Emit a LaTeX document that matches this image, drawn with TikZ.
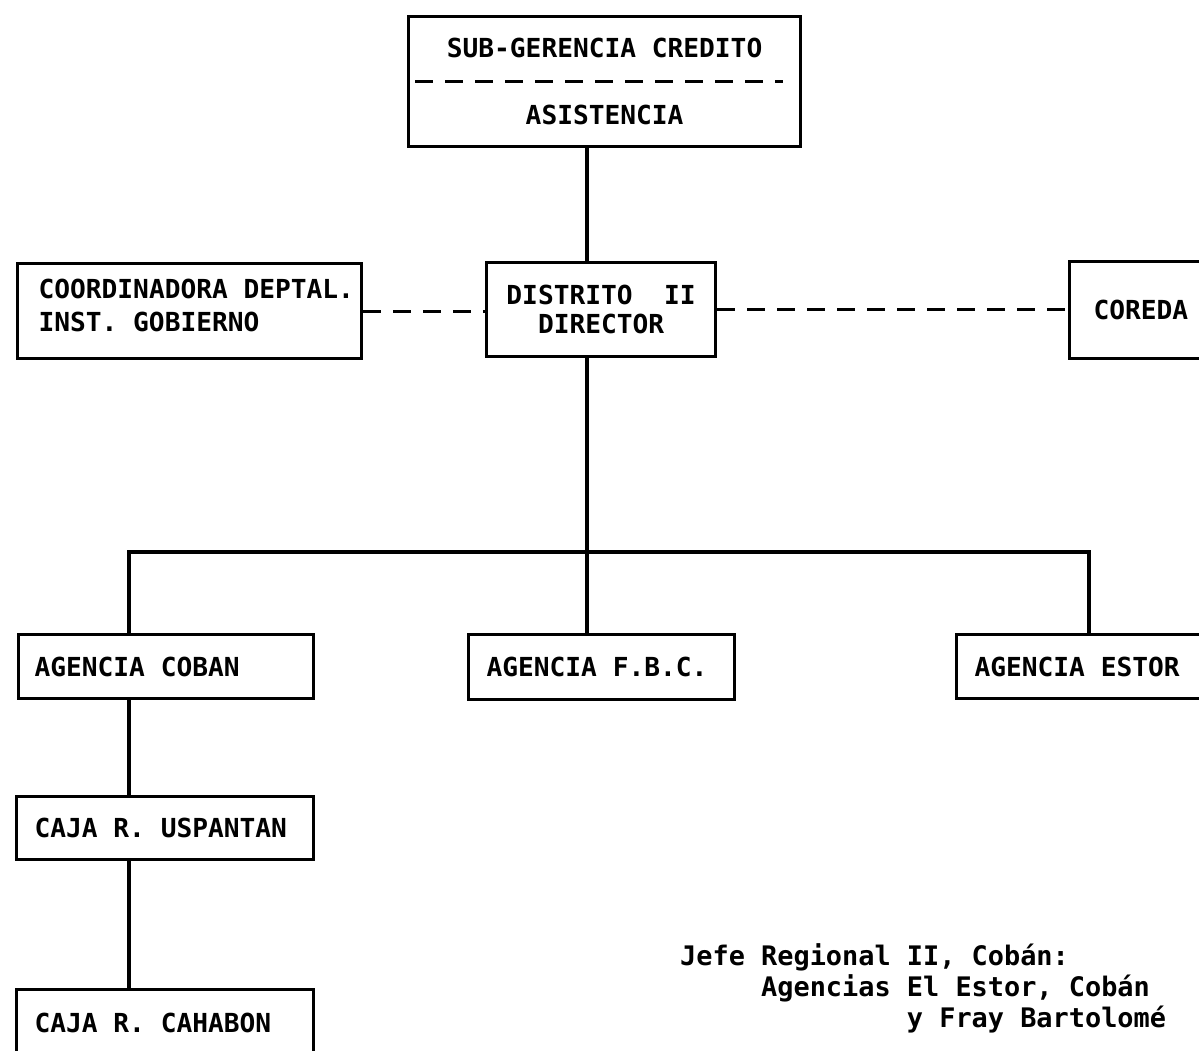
\documentclass[tikz,border=0pt]{standalone}
\usepackage{fontspec}
\setmainfont{DejaVu Sans Mono}
\newcommand\bxfont{\fontsize{26.2}{33}\selectfont\bfseries}
\newcommand\notefont{\fontsize{26.9}{31}\selectfont\bfseries}
\begin{document}
\begin{tikzpicture}[x=1pt,y=-1pt,
  box/.style={draw, line width=3.2pt, rectangle, anchor=north west, inner ysep=0pt, align=left, font=\bxfont,
              execute at begin node={\spaceskip=15.77pt\relax\xspaceskip=15.77pt\relax}},
  conn/.style={line width=3.2pt},
  dline/.style={line width=3.2pt, dash pattern=on 18pt off 12pt}]
\clip (0,0) rectangle (1199,1051);
\fill[white] (0,0) rectangle (1199,1051);

% boxes
\node[box, align=center, inner xsep=0pt, text width=392, minimum width=392, minimum height=130,
      font=\bxfont\fontsize{26.2}{67}\selectfont] (sub) at (407,15) {SUB-GERENCIA CREDITO\\ASISTENCIA};
\node[box, inner xsep=21pt, text width=302, minimum height=95, text depth=44pt,
      font=\bxfont\fontsize{26.2}{33}\selectfont] (coord) at (16,262)
      {\mbox{COORDINADORA DEPTAL.}\\INST. GOBIERNO};
\node[box, align=center, inner xsep=0pt, text width=229, minimum height=94,
      font=\bxfont\fontsize{26.2}{29}\selectfont] (dist) at (485,261)
      {DISTRITO\ \ II\\DIRECTOR};
\node[box, inner xsep=24pt, text width=102, minimum height=97] (coreda) at (1068,260) {COREDA};
\node[box, inner xsep=16pt, text width=263, minimum height=64] (cob) at (17,633) {AGENCIA COBAN};
\node[box, inner xsep=18pt, text width=230, minimum height=65] (fbc) at (467,633) {AGENCIA F.B.C.};
\node[box, inner xsep=18pt, text width=224, minimum height=64] (est) at (955,633) {AGENCIA ESTOR};
\node[box, inner xsep=18pt, text width=261, minimum height=63] (usp) at (15,795) {CAJA R. USPANTAN};
\node[box, inner xsep=18pt, text width=261, minimum height=66] (cah) at (15,988) {CAJA R. CAHABON};

% dashed divider inside top box
\draw[dline] ([xshift=8pt]sub.west) -- ([xshift=-19pt]sub.east);

% connectors
\coordinate (spine) at (587,0);
\coordinate (busL) at (129,552);
\coordinate (busR) at (1089,552);
\draw[conn] (sub.south -| spine) -- (dist.north -| spine);
\draw[conn] (dist.south -| spine) -- (fbc.north -| spine);
\draw[conn] (cob.north -| busL) -- (busL) -- (busR) -- (est.north -| busR);
\draw[conn] (cob.south -| busL) -- (usp.north -| busL);
\draw[conn] (usp.south -| busL) -- (cah.north -| busL);
\draw[dline] (coord.east) -- (coord.east -| dist.west);
\draw[dline] (dist.east) -- (dist.east -| coreda.west);

% note
\node[anchor=north west, inner sep=0pt, align=left, font=\notefont] (note) at (680,943)
  {Jefe Regional II, Cobán:\\\phantom{Jefe }Agencias El Estor, Cobán\\\phantom{Jefe Regional }y Fray Bartolomé};
\end{tikzpicture}
\end{document}
